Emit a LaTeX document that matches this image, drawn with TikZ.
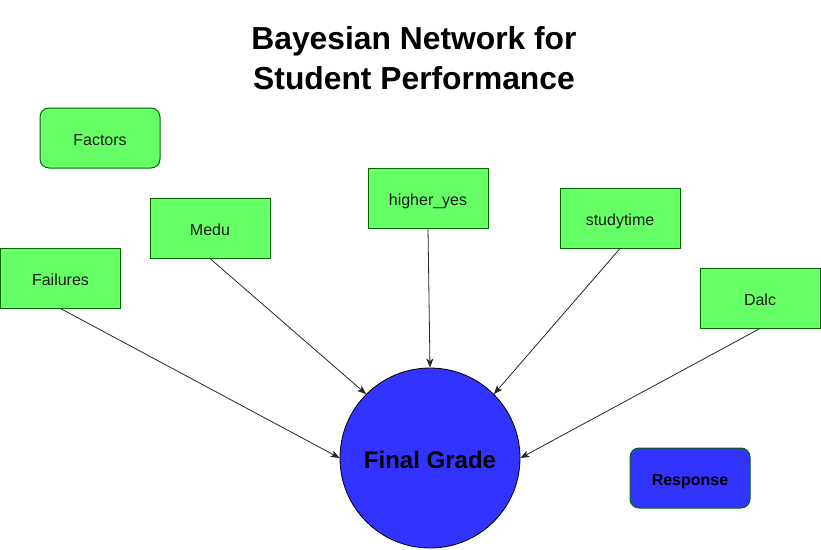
\documentclass[tikz,border=0pt]{standalone}
\usepackage{fontspec}
\setmainfont{Liberation Sans}
\usetikzlibrary{arrows.meta}
\definecolor{boxgreen}{HTML}{66FF66}
\definecolor{boxline}{HTML}{006600}
\definecolor{circblue}{HTML}{3333FF}
\definecolor{txt}{HTML}{1A1A1A}
\begin{document}
\begin{tikzpicture}[x=1pt,y=-1pt,
  factorbox/.style={draw=boxline,fill=boxgreen,line width=1pt,minimum width=120pt,minimum height=60pt,inner sep=0pt,text=txt,font=\fontsize{16}{19}\selectfont,text height=15.5pt,text depth=0pt},
  roundbox/.style={factorbox,rounded corners=9pt},
  edge/.style={draw=black!85,line width=0.8pt,-{Stealth[length=9pt,width=7pt,inset=2.5pt]}}
]
\useasboundingbox (0,0) rectangle (821,549);
\node[align=center,font=\fontsize{31.8}{40}\selectfont\bfseries] (title) at (414,58) {Bayesian Network for\\Student Performance};
\node[roundbox] (factors) at (100,138) {Factors};
\node[factorbox] (medu) at (210,228) {Medu};
\node[factorbox] (failures) at (60.5,278) {Failures};
\node[factorbox] (higher) at (428,198) {higher\_yes};
\node[factorbox] (study) at (620,218) {studytime};
\node[factorbox] (dalc) at (760,298) {Dalc};
\node[circle,draw=black,fill=circblue,line width=0.8pt,minimum size=180pt,inner sep=0pt,font=\fontsize{24}{28}\selectfont\bfseries,text height=21.3pt,text depth=0pt] (fg) at (430,458) {Final Grade};
\node[roundbox,fill=circblue,text=black,font=\fontsize{16}{19}\selectfont\bfseries] (response) at (690,478) {Response};
\draw[edge] (failures.south) -- (fg.west);
\draw[edge] (medu.south) -- (fg.135);
\draw[edge] (higher.south) -- (fg.north);
\draw[edge] (study.south) -- (fg.45);
\draw[edge] (dalc.south) -- (fg.east);
\end{tikzpicture}
\end{document}
